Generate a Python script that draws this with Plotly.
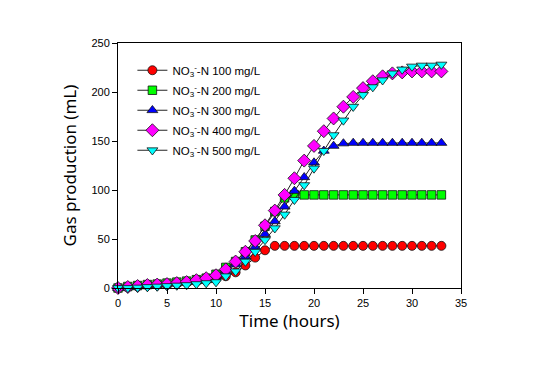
import plotly.graph_objects as go

hours = list(range(34))

no3_100 = [0, 1, 2, 3, 3.5, 4, 4.5, 5.5, 6.5, 7.5,
           9, 12, 16, 23, 31, 38.5,
           43, 43, 43, 43, 43, 43, 43, 43, 43, 43, 43, 43, 43, 43, 43, 43, 43, 43]
no3_200 = [0, 1.5, 2.5, 3.5, 4, 5, 6, 7, 8.5, 10,
           14, 21, 27, 37, 49, 63, 78, 92,
           95, 95, 95, 95, 95, 95, 95, 95, 95, 95, 95, 95, 95, 95, 95, 95]
no3_300 = [0, 1, 2, 3, 3.5, 4.5, 5.5, 6.5, 7.5, 9,
           12, 17, 24, 32, 42, 55, 68, 83, 99, 113, 128, 140, 145, 147.5,
           148, 148, 148, 148, 148, 148, 148, 148, 148, 148]
no3_400 = [0, 1, 2, 3, 3.5, 4, 5, 6, 8, 10,
           13, 19, 27, 37, 48, 64, 79, 95, 112, 130, 145, 160, 173, 185,
           195, 204, 211, 216, 219, 220, 221, 221, 221, 221]
no3_500 = [0, 0, 0.5, 1, 1.5, 2, 2.5, 3, 4, 5,
           6, 12, 17, 27, 37, 49, 61, 75, 90, 105, 122, 140, 156, 171,
           185, 197, 205, 212, 219, 223, 226, 227, 227, 228]

series_names = ["NO<sub>3</sub><sup>-</sup>-N 100 mg/L",
                "NO<sub>3</sub><sup>-</sup>-N 200 mg/L",
                "NO<sub>3</sub><sup>-</sup>-N 300 mg/L",
                "NO<sub>3</sub><sup>-</sup>-N 400 mg/L",
                "NO<sub>3</sub><sup>-</sup>-N 500 mg/L"]
series_values = [no3_100, no3_200, no3_300, no3_400, no3_500]
colors = ["#FF0000", "#00FF00", "#0000FF", "#FF00FF", "#00FFFF"]
symbols = ["circle", "square", "triangle-up", "diamond", "triangle-down"]
sizes = [9, 8.5, 9.5, 10, 9.5]

fig = go.Figure()
for i, (name, vals, c, s, sz) in enumerate(zip(series_names, series_values, colors, symbols, sizes)):
    fig.add_trace(go.Scatter(
        x=hours, y=vals, name=name, mode="lines+markers", legendgroup=f"g{i}",
        line=dict(color="#222222", width=1),
        marker=dict(symbol=s, size=sz, color=c, line=dict(color="#111111", width=0.8)),
        cliponaxis=False,
    ))

axis_common = dict(
    showline=True, linecolor="black", linewidth=1, mirror=True,
    ticks="outside", ticklen=5, tickwidth=1, tickcolor="black",
    showgrid=False, zeroline=False,
    tickfont=dict(family="Liberation Sans, Arial", size=11, color="black"),
)

fig.update_layout(
    width=534, height=384,
    paper_bgcolor="white", plot_bgcolor="white",
    margin=dict(l=110, r=81, t=35, b=104),
    xaxis=dict(range=[0, 35], dtick=5,
               title=dict(text="Time (hours)", font=dict(family="Noto Sans", size=17, color="black"), standoff=6),
               **axis_common),
    yaxis=dict(range=[0, 250], dtick=50,
               title=dict(text="Gas production (mL)", font=dict(family="Noto Sans", size=17, color="black"), standoff=10),
               **axis_common),
    legend=dict(x=0.042, y=0.948, xanchor="left", yanchor="top",
                bgcolor="rgba(0,0,0,0)", tracegroupgap=1,
                font=dict(family="Liberation Sans, Arial", size=11.5, color="black")),
    showlegend=True,
)

fig.write_html("out.html")
